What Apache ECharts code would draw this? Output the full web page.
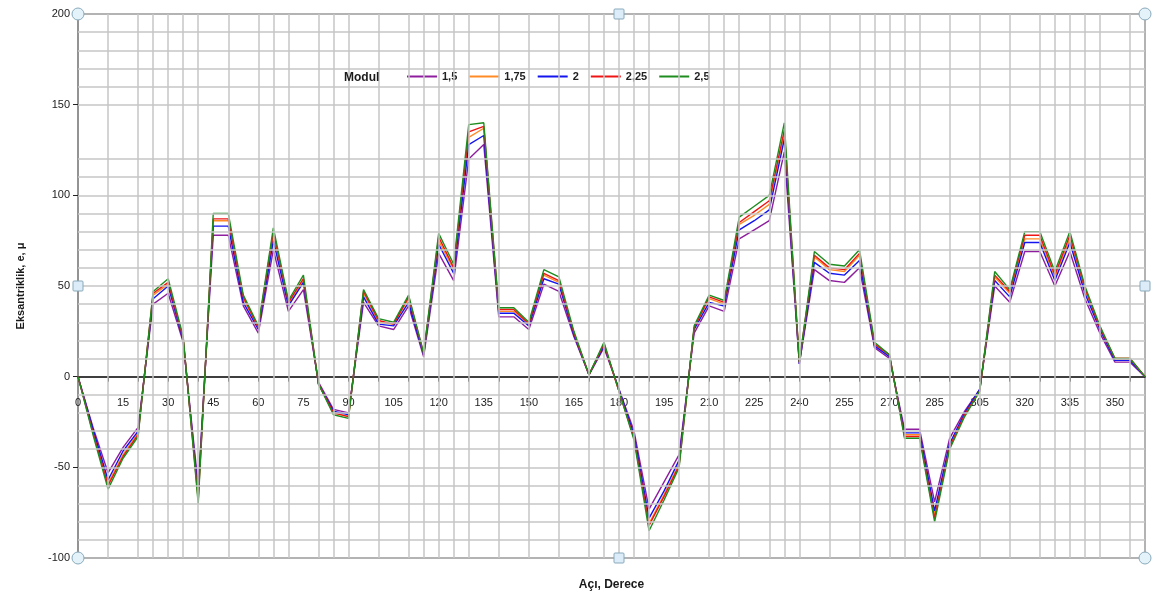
<!DOCTYPE html>
<html>
<head>
<meta charset="utf-8">
<script src="https://cdn.jsdelivr.net/npm/echarts@6/dist/echarts.min.js"></script>
<style>
  html, body { margin: 0; padding: 0; background: #fff; }
  #chart { width: 1154px; height: 599px; }
</style>
</head>
<body>
<div id="chart"></div>
<script>
// açı kategorileri (290 yok)
const angles = [
  '0','5','10','15','20','25','30','35','40','45','50','55','60','65','70','75','80','85','90','95',
  '100','105','110','115','120','125','130','135','140','145','150','155','160','165','170','175',
  '180','185','190','195','200','205','210','215','220','225','230','235','240','245','250','255',
  '260','265','270','275','280','285','295','300','305','310','315','320','325','330','335','340',
  '345','350','355','360'
]

const seriesNames = ['1,5', '1,75', '2', '2,25', '2,5']

const mod15 = [0,-28,-53,-39,-28,40,46,19,-60,78,78,39,24,70,36,48,-3,-18,-20,41,28,26,39,11,68,53,120,128,33,33,26,51,47,22,1,16,-7,-30,-73,-58,-43,24,39,36,76,81,86,124,7,59,53,52,60,16,10,-29,-29,-69,-34,-19,-7,50,41,69,69,50,69,43,24,8,8,0]
const mod175 = [0,-30,-59,-43,-31,45,51,21,-66,86,86,43,27,78,40,53,-4,-20,-22,46,30,29,43,12,75,59,132,137,36,36,29,56,52,24,1,18,-8,-33,-81,-65,-48,27,43,40,84,89,95,134,8,66,59,58,67,18,11,-32,-32,-76,-38,-21,-8,55,46,76,76,55,76,48,27,10,10,0]
const mod2 = [0,-29,-57,-41,-30,43,50,20,-64,83,83,41,26,75,39,52,-4,-19,-21,44,29,28,41,12,73,57,128,133,35,35,28,54,51,23,1,17,-7,-32,-78,-63,-46,26,41,39,81,86,92,131,7,63,57,56,64,17,11,-31,-31,-74,-37,-20,-7,53,44,74,74,53,74,46,26,9,9,0]
const mod225 = [0,-31,-60,-44,-32,46,52,21,-68,87,87,44,27,80,41,54,-4,-20,-22,47,31,29,44,13,77,60,135,138,37,37,29,57,53,24,1,18,-8,-34,-82,-66,-49,27,44,41,85,91,97,136,8,67,60,59,68,18,12,-33,-33,-78,-39,-21,-8,56,47,78,78,56,78,49,27,10,10,0]
const mod25 = [0,-32,-62,-45,-33,47,54,22,-70,90,90,45,28,82,42,56,-4,-21,-23,48,32,30,45,13,79,62,139,140,38,38,30,59,55,25,1,19,-8,-35,-85,-68,-50,28,45,42,88,94,100,140,8,69,62,61,70,19,12,-34,-34,-80,-40,-22,-8,58,48,80,80,58,80,50,28,10,10,0]

const yTicks = { min: -100, max: 200, interval: 50 }

// düzensiz ızgara çizgileri
const hGrid = [190,180,170,160,150,120,110,100,90,80,70,60,50,40,30,20,10,-10,-20,-30,-40,-50,-60,-70,-80,-90]
const vGrid = [2,4,5,6,7,8,10,12,13,14,16,17,18,20,22,23,24,25,26,28,30,32,34,35,36,37,38,40,42,43,44,46,47,48,50,52,53,54,55,56,58,60,62,64,65,66,67,68,70]

const COLORS = ['#8E1E9E', '#FF8A26', '#1414EE', '#EE1414', '#1E8C1E']
const FONT = 'Liberation Sans, Arial, sans-serif'

const GRID = { left: 78, right: 9, top: 14, bottom: 41 }
const plotH = 599 - GRID.top - GRID.bottom
// x ekseni sıfır çizgisinden geçsin (etiketler de)
const zeroOffset = -plotH * (0 - yTicks.min) / (yTicks.max - yTicks.min)

const chart = echarts.init(document.getElementById('chart'))

const gridLines = {
  name: '_grid',
  type: 'line',
  data: [],
  z: 1,
  silent: true,
  markLine: {
    silent: true,
    symbol: 'none',
    animation: false,
    label: { show: false },
    lineStyle: { color: '#c6c6c6', type: 'solid', width: 1.5 },
    emphasis: { disabled: true },
    data: [
      ...hGrid.map((v) => ({ yAxis: v })),
      ...vGrid.map((i) => ({ xAxis: i })),
    ],
  },
}

const dataSeries = [mod15, mod175, mod2, mod225, mod25].map((d, k) => ({
  name: seriesNames[k],
  type: 'line',
  data: d,
  symbol: 'none',
  z: 3,
  lineStyle: { color: COLORS[k], width: 1.4 },
  itemStyle: { color: COLORS[k] },
}))

chart.setOption({
  animation: false,
  backgroundColor: '#fff',
  textStyle: { fontFamily: FONT },
  grid: {
    ...GRID,
    outerBoundsMode: 'none',
    containLabel: false,
    show: true, borderColor: '#9a9a9a', borderWidth: 1.5,
  },
  title: {
    text: 'Modul',
    left: 339,
    top: 67,
    textStyle: { fontSize: 12, fontWeight: 'bold', color: '#1a1a1a', fontFamily: FONT },
  },
  legend: {
    data: seriesNames.map((n) => ({ name: n, icon: 'rect' })),
    left: 330,
    top: 62,
    padding: [9, 14, 9, 77],
    backgroundColor: '#fff',
    itemWidth: 30,
    itemHeight: 2,
    itemGap: 12,
    textStyle: { fontSize: 11, fontWeight: 'bold', color: '#222', fontFamily: FONT, lineHeight: 8 },
  },
  xAxis: {
    type: 'category',
    data: angles,
    boundaryGap: false,
    position: 'bottom',
    offset: zeroOffset,
    name: 'Açı, Derece',
    nameLocation: 'middle',
    nameGap: 202,
    nameTextStyle: { fontSize: 12, fontWeight: 'bold', color: '#1a1a1a' },
    axisLine: { onZero: false, lineStyle: { color: '#000', width: 1.5 } },
    axisTick: { interval: 1, length: 5, lineStyle: { color: '#000' } },
    axisLabel: { interval: 2, margin: 21, fontSize: 11, color: '#222' },
    splitLine: { show: false },
  },
  yAxis: {
    type: 'value',
    min: yTicks.min,
    max: yTicks.max,
    interval: yTicks.interval,
    name: 'Eksantriklik, e, μ',
    nameLocation: 'middle',
    nameGap: 52,
    nameTextStyle: { fontSize: 11, fontWeight: 'bold', color: '#1a1a1a' },
    axisLine: { show: true, lineStyle: { color: '#888', width: 1.5 } },
    axisTick: { show: true, length: 5, lineStyle: { color: '#222' } },
    axisLabel: { fontSize: 11, color: '#222', margin: 8 },
    splitLine: { show: false },
  },
  series: [gridLines, ...dataSeries],
})

// Excel seçim tutamaçları (köşeler ve kenar ortaları)
const lastIdx = angles.length - 1
const midIdx = lastIdx / 2
const p = (x, y) => chart.convertToPixel({ xAxisIndex: 0, yAxisIndex: 0 }, [x, y])
const corners = [[0, 200], [lastIdx, 200], [0, -100], [lastIdx, -100]].map(([x, y]) => p(x, y))
const mids = [[midIdx, 200], [midIdx, -100], [0, 50], [lastIdx, 50]].map(([x, y]) => p(x, y))
chart.setOption({
  graphic: [
    ...corners.map(([x, y]) => ({
      type: 'circle', z: 100, shape: { cx: x, cy: y, r: 6 },
      style: { fill: '#e4f2fa', stroke: '#8aaabb', lineWidth: 1 },
    })),
    ...mids.map(([x, y]) => ({
      type: 'rect', z: 100, shape: { x: x - 5, y: y - 5, width: 10, height: 10, r: 1 },
      style: { fill: '#dcecf8', stroke: '#8aaabb', lineWidth: 1 },
    })),
  ],
})
</script>
</body>
</html>
